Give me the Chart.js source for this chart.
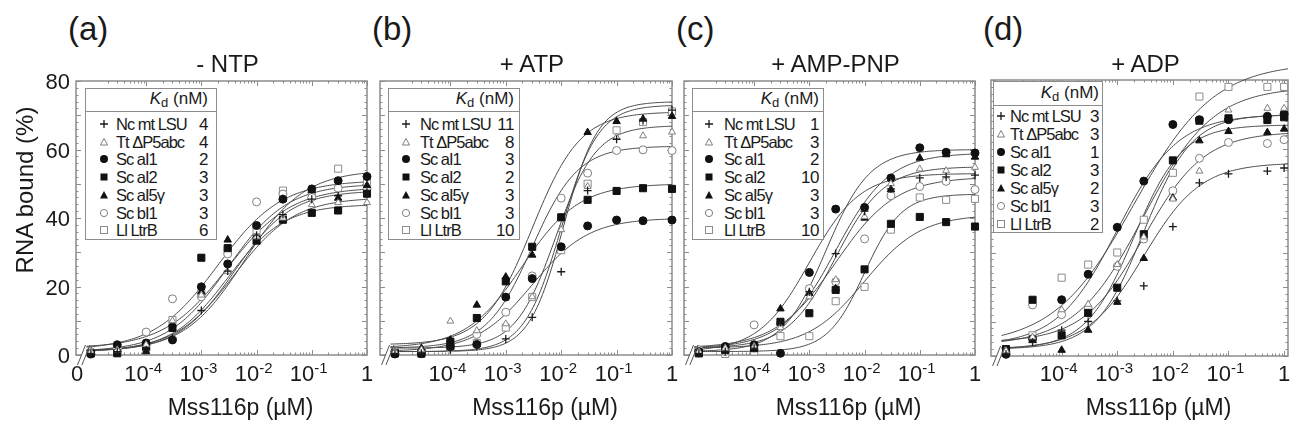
<!DOCTYPE html>
<html>
<head>
<meta charset="utf-8">
<script src="https://cdn.jsdelivr.net/npm/chart.js@4.4.1/dist/chart.umd.min.js"></script>
<style>
  body { margin: 0; background: #fff; }
  #fig { position: relative; width: 1297px; height: 433px; overflow: hidden;
         font-family: "Liberation Sans", Arial, sans-serif; color: #1a1a1a; }
  #fig canvas { position: absolute; }
  .txt { position: absolute; white-space: nowrap; line-height: 1; transform: translate(-50%, -50%); }
  .txt sup { font-size: 15px; position: relative; top: -0.55em; vertical-align: baseline; line-height: 0; }
  .legend { position: absolute; background: #fff; border: 1.5px solid #8c8c8c; box-sizing: border-box;
            font-size: 17px; }
  .legend .head { position: absolute; left: 0; right: 0; top: 0; border-bottom: 1.5px solid #8c8c8c; }
  .legend .head span { position: absolute; line-height: 1; }
  .legend .head sub { font-size: 13px; vertical-align: -0.25em; }
  .legend .nm, .legend .kd { position: absolute; line-height: 1; transform: translateY(-50%); white-space: nowrap; }
  .legend .nm { font-size: 16.5px; letter-spacing: -1px; }
  .legend .kd { letter-spacing: -0.5px; }
  .legend svg { position: absolute; }
</style>
</head>
<body>
<div id="fig"></div>
<script>
// Mss116p concentrations (µM); 0 = no protein
const concABC = [0, 3e-5, 1e-4, 3e-4, 1e-3, 3e-3, 1e-2, 3e-2, 0.1, 0.3, 1];
const concD = [0, 3e-5, 1e-4, 3e-4, 1e-3, 3e-3, 1e-2, 3e-2, 0.1, 0.5, 1];

const rnaNames = ['Nc mt LSU', 'Tt ΔP5abc', 'Sc aI1', 'Sc aI2', 'Sc aI5γ', 'Sc bI1', 'Ll LtrB'];
const panelTags = ['(a)', '(b)', '(c)', '(d)'];
const panelTitles = ['- NTP', '+ ATP', '+ AMP-PNP', '+ ADP'];
const yTicks = [0, 20, 40, 60, 80];
const xTickExps = [-4, -3, -2, -1];
const xTitle = 'Mss116p (µM)';
const yTitle = 'RNA bound (%)';

// RNA bound (%), one row per RNA in rnaNames order
const boundNoNtp = [
  [0.5, 1.0, 1.5, 5.0, 13.0, 24.5, 35.0, 41.0, 45.5, 46.5, 47.5],
  [1.0, 1.5, 3.0, 10.0, 17.5, 24.3, 34.5, 40.0, 43.9, 44.5, 44.5],
  [0.3, 3.0, 3.5, 4.4, 19.9, 26.6, 37.8, 45.5, 48.5, 50.9, 52.1],
  [0.5, 0.5, 2.5, 7.9, 28.4, 31.2, 33.6, 39.5, 41.5, 42.2, 47.1],
  [0.8, 1.5, 1.0, 9.0, 18.5, 33.6, 33.0, 45.5, 48.0, 45.8, 49.5],
  [1.0, 2.0, 6.7, 16.4, 17.0, 29.5, 44.7, 47.0, 46.0, 48.7, 48.5],
  [0.5, 1.0, 2.0, 10.2, 18.0, 30.5, 36.5, 48.0, 47.5, 54.4, 50.5]
];
const boundAtp = [
  [0.5, 0.5, 1.5, 2.5, 4.7, 11.0, 24.3, 48.0, 63.0, 68.5, 71.5],
  [1.0, 1.5, 9.9, 7.1, 9.1, 17.0, 36.6, 49.2, 63.6, 64.0, 65.1],
  [0.3, 0.4, 2.4, 3.1, 16.9, 22.3, 31.6, 37.7, 39.4, 39.2, 39.4],
  [0.5, 0.4, 3.9, 10.8, 21.5, 31.6, 40.2, 45.3, 47.9, 48.7, 48.5],
  [1.0, 2.0, 4.4, 14.6, 22.8, 29.2, 40.0, 65.0, 68.2, 68.9, 69.7],
  [1.0, 1.5, 3.0, 6.0, 12.5, 23.1, 45.8, 53.1, 59.7, 59.9, 59.7],
  [0.5, 1.0, 2.0, 3.5, 8.0, 16.9, 30.6, 50.0, 65.6, 68.0, 71.1]
];
const boundAmpPnp = [
  [0.5, 1.0, 2.0, 9.5, 18.5, 29.6, 42.0, 48.5, 51.7, 52.0, 52.5],
  [1.0, 2.0, 2.5, 8.0, 17.0, 22.0, 40.4, 50.0, 54.3, 53.8, 54.8],
  [1.0, 2.5, 3.0, 0.5, 24.1, 42.6, 43.1, 51.7, 60.5, 59.2, 59.0],
  [0.5, 1.5, 2.0, 9.7, 12.2, 19.0, 25.0, 38.3, 40.3, 38.8, 37.5],
  [1.0, 2.0, 2.0, 13.5, 18.0, 19.4, 40.0, 48.3, 57.5, 58.5, 57.8],
  [1.5, 1.0, 8.8, 9.0, 19.4, 21.4, 33.9, 46.5, 49.2, 50.7, 48.3],
  [0.5, 0.3, 1.0, 5.5, 5.5, 15.7, 19.9, 36.6, 46.0, 45.3, 45.6]
];
const boundAdp = [
  [0.5, 4.0, 7.5, 10.0, 16.0, 20.3, 37.5, 50.2, 52.8, 53.6, 54.5],
  [1.5, 5.5, 13.4, 15.0, 26.5, 34.5, 45.5, 53.6, 71.3, 71.8, 71.8],
  [0.5, 5.0, 16.3, 23.7, 37.3, 50.7, 67.1, 68.5, 68.5, 69.5, 70.2],
  [2.0, 16.3, 6.0, 12.5, 19.8, 35.3, 56.7, 68.2, 68.9, 68.4, 69.2],
  [1.5, 4.5, 1.7, 7.5, 15.6, 28.3, 45.8, 62.4, 65.1, 64.8, 65.8],
  [1.0, 14.8, 12.0, 13.8, 26.0, 33.9, 47.9, 57.3, 61.9, 61.6, 62.7],
  [1.5, 6.0, 22.7, 26.5, 30.0, 39.5, 53.1, 75.2, 78.0, 78.0, 78.0]
];

// Kd (nM) as listed in each legend
const kdNoNtp = [4, 4, 2, 3, 3, 3, 6];
const kdAtp = [11, 8, 3, 2, 3, 3, 10];
const kdAmpPnp = [1, 3, 2, 10, 3, 3, 10];
const kdAdp = [3, 3, 1, 3, 2, 3, 2];

// binding-curve plateau, baseline and Hill coefficient
const topNoNtp = [48, 46, 51, 44, 50, 49, 54];
const baseNoNtp = [1, 1, 1.5, 1, 1, 2, 1];
const hillNoNtp = [0.85, 0.8, 0.75, 0.85, 0.8, 0.75, 0.8];
const topAtp = [74, 67, 40, 50, 71, 61, 73];
const baseAtp = [1, 2, 1, 2, 3, 2, 1];
const hillAtp = [1.4, 1.2, 0.85, 0.85, 1.0, 1.05, 1.3];
const topAmpPnp = [53, 55, 60, 41, 59, 52, 47];
const baseAmpPnp = [1, 2, 1, 2, 2, 2, 1];
const hillAmpPnp = [0.95, 1.0, 1.1, 0.85, 0.9, 0.8, 1.3];
const topAdp = [56, 78, 70, 70, 67, 65, 85];
const baseAdp = [2, 3, 3, 2, 2, 4, 3];
const hillAdp = [0.85, 0.7, 0.8, 1.0, 1.0, 0.8, 0.6];

const panels = [
  { conc: concABC, bound: boundNoNtp, kd: kdNoNtp, top: topNoNtp, base: baseNoNtp, hill: hillNoNtp },
  { conc: concABC, bound: boundAtp, kd: kdAtp, top: topAtp, base: baseAtp, hill: hillAtp },
  { conc: concABC, bound: boundAmpPnp, kd: kdAmpPnp, top: topAmpPnp, base: baseAmpPnp, hill: hillAmpPnp },
  { conc: concD, bound: boundAdp, kd: kdAdp, top: topAdp, base: baseAdp, hill: hillAdp }
];

// plot boxes in page pixels
const boxes = [
  { l: 76, t: 81, r: 367, b: 355, xmax: 0 },
  { l: 380, t: 81, r: 672, b: 355, xmax: 0 },
  { l: 684, t: 81, r: 975, b: 355, xmax: 0 },
  { l: 991, t: 80, r: 1288, b: 356, xmax: 0.07 }
];
const legendSpots = [
  { l: 85, t: 88, w: 132, h: 152, head: 22, sym: 18, name: 30, val: 8, row0: 35, step: 17.7 },
  { l: 388, t: 88, w: 132, h: 152, head: 22, sym: 17, name: 31, val: 5, row0: 35, step: 17.7 },
  { l: 692, t: 88, w: 132, h: 152, head: 22, sym: 16, name: 31, val: 4, row0: 35, step: 17.7 },
  { l: 993, t: 81, w: 110, h: 152, head: 23, sym: 7, name: 16, val: 3, row0: 34, step: 18 }
];
const M = 14;                 // canvas margin around each plot box
const ZERO_AT = 1e-5;         // no-protein points sit just right of the axis break
const LOG_MIN = -5.27;

const markers = [
  { pointStyle: 'cross', r: 4, fill: 'rgba(0,0,0,0)', line: '#1a1a1a', w: 1.3 },
  { pointStyle: 'triangle', r: 4, fill: '#fff', line: '#808080', w: 1 },
  { pointStyle: 'circle', r: 4, fill: '#111', line: '#111', w: 1 },
  { pointStyle: 'rect', r: 5, fill: '#111', line: '#111', w: 1 },
  { pointStyle: 'triangle', r: 4.3, fill: '#111', line: '#111', w: 1 },
  { pointStyle: 'circle', r: 4, fill: '#fff', line: '#808080', w: 1 },
  { pointStyle: 'rect', r: 5, fill: '#fff', line: '#8c8c8c', w: 1 }
];

function hill(x, base, top, kd, n) {
  const t = Math.pow(x / kd, n);
  return base + (top - base) * t / (1 + t);
}

// fitted binding curve, Kd in nM converted to µM
function fitLine(base, top, kdNM, n, logMax) {
  const kd = kdNM / 1000;
  const lo = -5.08;
  const pts = [];
  for (let i = 0; i <= 150; i++) {
    const x = 10 ** (lo + (logMax - lo) * i / 150);
    pts.push({ x, y: hill(x, base, top, kd, n) });
  }
  return pts;
}

const axisFrame = {
  id: 'axisFrame',
  beforeDatasetsDraw(chart) {
    const { ctx, chartArea: a, scales: { x, y } } = chart;
    ctx.save();
    ctx.strokeStyle = '#8c8c8c';
    ctx.lineWidth = 1;
    ctx.beginPath();
    for (let v = 0; v <= 80; v += 2) {
      const py = Math.round(y.getPixelForValue(v)) + 0.5;
      const len = v % 10 === 0 ? 5 : 2.5;
      ctx.moveTo(a.left, py); ctx.lineTo(a.left + len, py);
      ctx.moveTo(a.right, py); ctx.lineTo(a.right - len, py);
    }
    for (let e = -5; e <= 0; e++) {
      for (let m = 1; m <= 9; m++) {
        const v = m * 10 ** e;
        if (v < 2e-5 || v > x.max * 1.001) continue;
        const px = Math.round(x.getPixelForValue(v)) + 0.5;
        const len = m === 1 ? 5 : 2.5;
        ctx.moveTo(px, a.bottom); ctx.lineTo(px, a.bottom - len);
        ctx.moveTo(px, a.top); ctx.lineTo(px, a.top + len);
      }
    }
    ctx.stroke();
    ctx.lineWidth = 1.5;
    ctx.strokeRect(a.left, a.top, a.width, a.height);
    ctx.restore();
  },
  afterDatasetsDraw(chart) {
    // "//" break between 0 and the log part of the axis
    const { ctx, chartArea: a, scales: { x } } = chart;
    const bx = x.getPixelForValue(10 ** -5.13);
    ctx.save();
    ctx.fillStyle = '#fff';
    ctx.fillRect(bx - 2, a.bottom - 2, 4, 4);
    ctx.strokeStyle = '#555';
    ctx.lineWidth = 1;
    ctx.beginPath();
    for (const dx of [-2.2, 2.2]) {
      ctx.moveTo(bx + dx - 4, a.bottom + 10);
      ctx.lineTo(bx + dx + 4, a.bottom - 10);
    }
    ctx.stroke();
    ctx.restore();
  }
};

const fig = document.getElementById('fig');

function addText(html, x, y, size, extra) {
  const d = document.createElement('div');
  d.className = 'txt';
  d.innerHTML = html;
  d.style.left = x + 'px';
  d.style.top = y + 'px';
  d.style.fontSize = size + 'px';
  if (extra) Object.assign(d.style, extra);
  fig.appendChild(d);
  return d;
}

function markerSvg(i, cx, cy) {
  const s = 'stroke-width="1"';
  const shapes = [
    '<path d="M1 5H9M5 1V9" stroke="#1a1a1a" stroke-width="1.3"/>',
    `<path d="M5 1.5L8.6 8H1.4Z" fill="#fff" stroke="#808080" ${s}/>`,
    '<circle cx="5" cy="5" r="4" fill="#111"/>',
    '<rect x="1.5" y="1.5" width="7" height="7" fill="#111"/>',
    '<path d="M5 1L9 8.5H1Z" fill="#111"/>',
    `<circle cx="5" cy="5" r="3.6" fill="#fff" stroke="#808080" ${s}/>`,
    `<rect x="1.5" y="1.5" width="7" height="7" fill="#fff" stroke="#8c8c8c" ${s}/>`
  ];
  return `<svg width="10" height="10" style="left:${cx - 5}px;top:${cy - 5}px">${shapes[i]}</svg>`;
}

function buildLegend(p, spot) {
  const lg = document.createElement('div');
  lg.className = 'legend';
  Object.assign(lg.style, { left: spot.l + 'px', top: spot.t + 'px', width: spot.w + 'px', height: spot.h + 'px' });
  let html = `<div class="head" style="height:${spot.head}px"><span style="right:${spot.val}px;top:${spot.head / 2 - 10}px"><i>K</i><sub>d</sub> (nM)</span></div>`;
  rnaNames.forEach((name, i) => {
    const cy = spot.row0 + spot.step * i;
    html += markerSvg(i, spot.sym, cy);
    html += `<span class="nm" style="left:${spot.name}px;top:${cy}px">${name}</span>`;
    html += `<span class="kd" style="right:${spot.val}px;top:${cy}px">${panels[p].kd[i]}</span>`;
  });
  lg.innerHTML = html;
  fig.appendChild(lg);
}

panels.forEach((p, pi) => {
  const box = boxes[pi];
  const cv = document.createElement('canvas');
  const cw = box.r - box.l + 2 * M, ch = box.b - box.t + 2 * M;
  cv.width = cw; cv.height = ch;
  cv.style.left = (box.l - M) + 'px';
  cv.style.top = (box.t - M) + 'px';
  cv.style.width = cw + 'px'; cv.style.height = ch + 'px';
  fig.appendChild(cv);

  const datasets = [];
  rnaNames.forEach((name, i) => {
    const mk = markers[i];
    datasets.push({
      label: name,
      data: p.conc.map((c, k) => ({ x: c === 0 ? ZERO_AT : c, y: p.bound[i][k] })),
      pointStyle: mk.pointStyle,
      pointRadius: mk.r,
      backgroundColor: mk.fill,
      borderColor: mk.line,
      borderWidth: mk.w,
      showLine: false,
      clip: false,
      order: 0
    });
  });
  rnaNames.forEach((name, i) => {
    datasets.push({
      label: name + ' fit',
      data: fitLine(p.base[i], p.top[i], p.kd[i], p.hill[i], box.xmax),
      showLine: true,
      pointRadius: 0,
      borderColor: '#4a4a4a',
      borderWidth: 1,
      clip: false,
      order: 1
    });
  });

  const chart = new Chart(cv, {
    type: 'scatter',
    data: { datasets },
    options: {
      responsive: false, animation: false, devicePixelRatio: 1,
      layout: { padding: M },
      scales: {
        x: { type: 'logarithmic', min: 10 ** LOG_MIN, max: 10 ** box.xmax, display: false },
        y: { type: 'linear', min: 0, max: 80, display: false }
      },
      plugins: { legend: { display: false }, tooltip: { enabled: false } }
    },
    plugins: [axisFrame]
  });

  const ox = box.l - M, oy = box.t - M;
  const sx = chart.scales.x, sy = chart.scales.y;

  // tick labels
  xTickExps.forEach(e => {
    addText(`10<sup>${e < 0 ? '-' : ''}${Math.abs(e)}</sup>`, ox + sx.getPixelForValue(10 ** e) - 3, 374, 22);
  });
  addText('1', ox + sx.getPixelForValue(1), 374, 22);
  if (pi === 0) {
    addText('0', ox + sx.getPixelForValue(10 ** LOG_MIN) + 1, 374, 22);
    yTicks.forEach(v => {
      addText(String(v), 70, oy + sy.getPixelForValue(v) + 1, 22, { transform: 'translate(-100%, -50%)' });
    });
  }

  addText(panelTags[pi], box.l - 8, 28, 33, { transform: 'translate(0, -50%)' });
  addText(panelTitles[pi], (box.l + box.r) / 2 + 6, 64, 24);
  addText(xTitle, (box.l + box.r) / 2 + 19, 407, 23);
  buildLegend(pi, legendSpots[pi]);
});

addText(yTitle, 25, 190, 24, { transform: 'translate(-50%, -50%) rotate(-90deg)' });
</script>
</body>
</html>
